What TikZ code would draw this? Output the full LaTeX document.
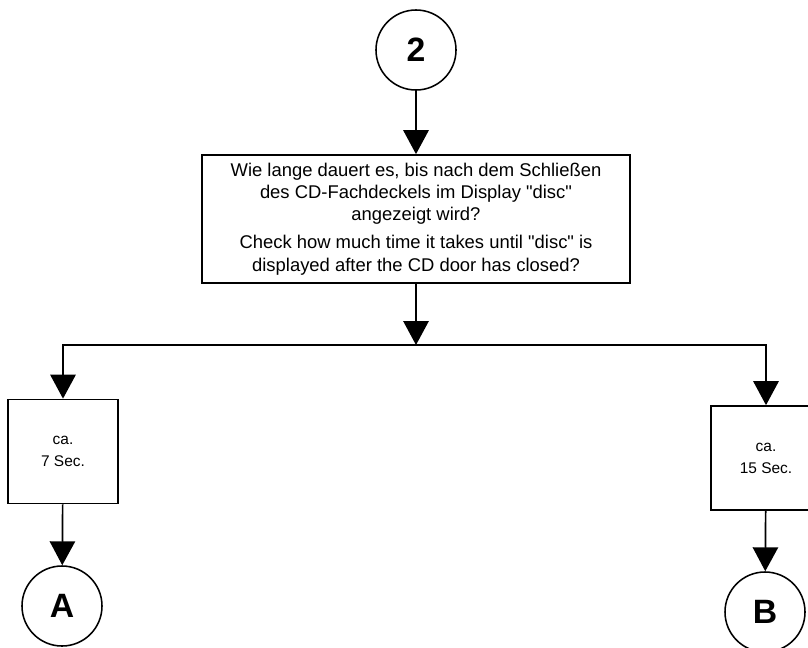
\documentclass[tikz,border=0pt]{standalone}
\usepackage{fontspec}
\setmainfont{Liberation Sans}
\usetikzlibrary{arrows.meta}
\begin{document}
\begin{tikzpicture}[x=0.025cm,y=-0.025cm,
  conn/.style={-{Triangle[length=17pt,width=18pt]},line width=1.2pt},
  connector/.style={circle,draw,line width=1.1pt,minimum size=2cm,inner sep=0pt,font=\fontsize{24}{28}\selectfont\bfseries},
  timebox/.style={rectangle,draw,line width=1.2pt,minimum width=2.75cm,minimum height=2.6cm,align=center,font=\fontsize{11}{15.6}\selectfont}]
\useasboundingbox (0,0) rectangle (808,647);
\node(C2)[connector] at (416,50) {2};
\node(Q)[rectangle,draw,line width=1.2pt,minimum width=10.7cm,minimum height=3.2cm,align=center,font=\fontsize{13.1}{15.8}\selectfont] at (416,219)
{Wie lange dauert es, bis nach dem Schließen\\des CD-Fachdeckels im Display \textquotedbl disc\textquotedbl\\angezeigt wird?\\[4pt]Check how much time it takes until \textquotedbl disc\textquotedbl\ is\\displayed after the CD door has closed?};
\coordinate (S) at (416,345);
\node(A)[timebox] at (63,451.5) {ca.\\7 Sec.};
\node(B)[timebox] at (766,458) {ca.\\15 Sec.};
\node(CA)[connector] at (62,606) {A};
\node(CB)[connector] at (765,612) {B};
\draw[conn] (C2) -- (Q);
\draw[conn] (Q) -- (S);
\draw[conn] (S) -| (A);
\draw[conn] (S) -| (B);
\draw[conn] (A) -- (CA);
\draw[conn] (B) -- (CB);

\end{tikzpicture}
\end{document}
